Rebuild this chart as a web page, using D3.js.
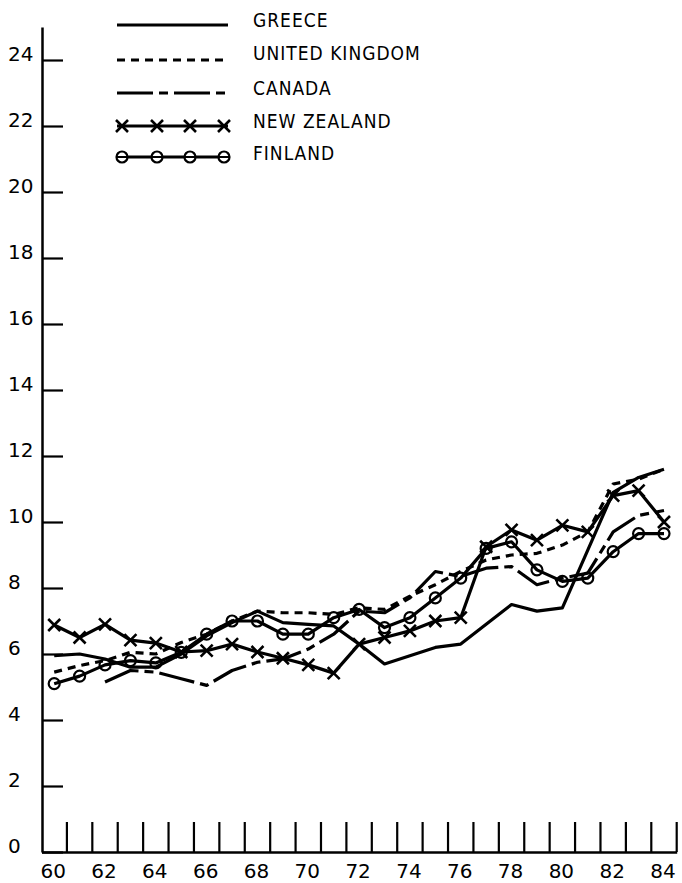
<!DOCTYPE html>
<html>
<head>
<meta charset="utf-8">
<script src="https://cdn.jsdelivr.net/npm/d3@7"></script>
<style>
  body { margin: 0; background: #fff; }
  text { font-family: "DejaVu Sans Condensed", "DejaVu Sans", sans-serif; fill: #000; }
  .axis-label { font-family: "DejaVu Sans", sans-serif; }
</style>
</head>
<body>
<div id="chart"></div>
<script>
// years on the x axis (19xx)
var years = [60,61,62,63,64,65,66,67,68,69,70,71,72,73,74,75,76,77,78,79,80,81,82,83,84];
var xLabels = [60,62,64,66,68,70,72,74,76,78,80,82,84];
var yTicks = [0,2,4,6,8,10,12,14,16,18,20,22,24];

// values
var greece  = [5.95,6.0,5.85,5.6,5.6,6.0,6.55,6.95,7.3,6.95,6.9,6.85,6.3,5.7,5.95,6.2,6.3,6.9,7.5,7.3,7.4,9.15,10.9,11.35,11.6];
var uk      = [5.45,5.65,5.8,6.05,6.0,6.35,6.6,7.0,7.3,7.25,7.25,7.2,7.4,7.35,7.75,8.1,8.5,8.85,9.0,9.05,9.3,9.7,11.15,11.3,11.6];
var canada  = [null,null,5.15,5.5,5.45,5.25,5.05,5.5,5.75,5.85,6.15,6.6,7.3,7.25,7.7,8.5,8.35,8.6,8.65,8.1,8.3,8.45,9.7,10.2,10.35];
var nz      = [6.88,6.5,6.9,6.42,6.33,6.06,6.1,6.3,6.06,5.87,5.67,5.42,6.3,6.5,6.7,7.0,7.1,9.25,9.76,9.45,9.9,9.7,10.8,10.95,10.0];
var finland = [5.1,5.33,5.67,5.8,5.73,6.05,6.6,7.0,7.0,6.6,6.6,7.1,7.35,6.8,7.1,7.7,8.3,9.2,9.4,8.55,8.2,8.3,9.1,9.65,9.65];

var seriesNames = ["GREECE","UNITED KINGDOM","CANADA","NEW ZEALAND","FINLAND"];

var series = [
  {name: seriesNames[0], values: greece,  dash: null,        marker: null},
  {name: seriesNames[1], values: uk,      dash: "8,6",       marker: null},
  {name: seriesNames[2], values: canada,  dash: "36,6,9,6",  marker: null},
  {name: seriesNames[3], values: nz,      dash: null,        marker: "x"},
  {name: seriesNames[4], values: finland, dash: null,        marker: "o"}
];

var W = 682, H = 883;
var svg = d3.select("#chart").append("svg")
  .attr("width", W)
  .attr("height", H);

var x = d3.scaleBand().domain(years).range([41.5, 676.7]).padding(0);
var y = d3.scaleLinear().domain([0, 25]).range([852, 27]);
function cx(yr) { return x(yr) + x.bandwidth() / 2; }

// y axis
var yAxis = svg.append("g")
  .attr("transform", "translate(42,0)")
  .call(d3.axisLeft(y).tickValues(yTicks).tickSize(-21).tickSizeOuter(0));
yAxis.select(".domain").attr("stroke-width", 2.5);
yAxis.selectAll(".tick line").attr("stroke-width", 2.2);
yAxis.selectAll(".tick text")
  .attr("class", "axis-label")
  .attr("x", -34).attr("dy", 0)
  .attr("text-anchor", "start")
  .attr("font-size", "20px");

// x axis: labels under the year intervals
var xAxis = svg.append("g")
  .attr("transform", "translate(0,852)")
  .call(d3.axisBottom(x).tickValues(xLabels).tickSize(0).tickSizeOuter(0));
xAxis.select(".domain").attr("stroke-width", 2.5);
xAxis.selectAll(".tick text")
  .attr("class", "axis-label")
  .attr("y", 26).attr("dy", 0)
  .attr("dx", -1)
  .attr("font-size", "20px");

// vertical ticks at the end of each year
svg.append("g").selectAll("line")
  .data(years)
  .enter().append("line")
    .attr("x1", function(d) { return x(d) + x.bandwidth(); })
    .attr("x2", function(d) { return x(d) + x.bandwidth(); })
    .attr("y1", 852)
    .attr("y2", 822)
    .attr("stroke", "#000")
    .attr("stroke-width", 2.2);

// lines
var line = d3.line()
  .defined(function(d) { return d != null; })
  .x(function(d, i) { return cx(years[i]); })
  .y(function(d) { return y(d); });

var plot = svg.append("g");

series.forEach(function(s) {
  plot.append("path")
    .datum(s.values)
    .attr("d", line)
    .attr("fill", "none")
    .attr("stroke", "#000")
    .attr("stroke-width", 3.2)
    .attr("stroke-linejoin", "round")
    .attr("stroke-dasharray", s.dash);

  var pts = s.values.map(function(v, i) { return {yr: years[i], v: v}; })
    .filter(function(d) { return d.v != null; });

  if (s.marker === "x") {
    plot.append("g").selectAll("path")
      .data(pts)
      .enter().append("path")
        .attr("d", function(d) {
          var px = cx(d.yr), py = y(d.v), r = 6;
          return "M" + (px - r) + "," + (py - r) + "L" + (px + r) + "," + (py + r) +
                 "M" + (px - r) + "," + (py + r) + "L" + (px + r) + "," + (py - r);
        })
        .attr("stroke", "#000")
        .attr("stroke-width", 2.6);
  }
  if (s.marker === "o") {
    plot.append("g").selectAll("circle")
      .data(pts)
      .enter().append("circle")
        .attr("cx", function(d) { return cx(d.yr); })
        .attr("cy", function(d) { return y(d.v); })
        .attr("r", 5.5)
        .attr("fill", "none")
        .attr("stroke", "#000")
        .attr("stroke-width", 2.2);
  }
});

// legend
var legendY = [25, 60, 93, 126, 157];
var legend = svg.append("g");
series.forEach(function(s, i) {
  var ly = legendY[i];
  legend.append("line")
    .attr("x1", 117).attr("x2", 228)
    .attr("y1", ly).attr("y2", ly)
    .attr("stroke", "#000")
    .attr("stroke-width", 3.2)
    .attr("stroke-dasharray", s.dash);
  var mx = [122, 157, 190, 224];
  if (s.marker === "x") {
    mx.forEach(function(px) {
      legend.append("path")
        .attr("d", "M" + (px - 6) + "," + (ly - 6) + "L" + (px + 6) + "," + (ly + 6) +
                   "M" + (px - 6) + "," + (ly + 6) + "L" + (px + 6) + "," + (ly - 6))
        .attr("stroke", "#000").attr("stroke-width", 2.6);
    });
  }
  if (s.marker === "o") {
    mx.forEach(function(px) {
      legend.append("circle")
        .attr("cx", px).attr("cy", ly).attr("r", 5.5)
        .attr("fill", "#fff").attr("stroke", "#000").attr("stroke-width", 2.2);
      legend.append("line")
        .attr("x1", px - 5.5).attr("x2", px + 5.5)
        .attr("y1", ly).attr("y2", ly)
        .attr("stroke", "#000").attr("stroke-width", 2);
    });
  }
  legend.append("text")
    .attr("x", 253)
    .attr("y", [27, 60, 95, 128, 160][i])
    .attr("font-size", "19px")
    .attr("letter-spacing", "1px")
    .text(s.name);
});
</script>
</body>
</html>
